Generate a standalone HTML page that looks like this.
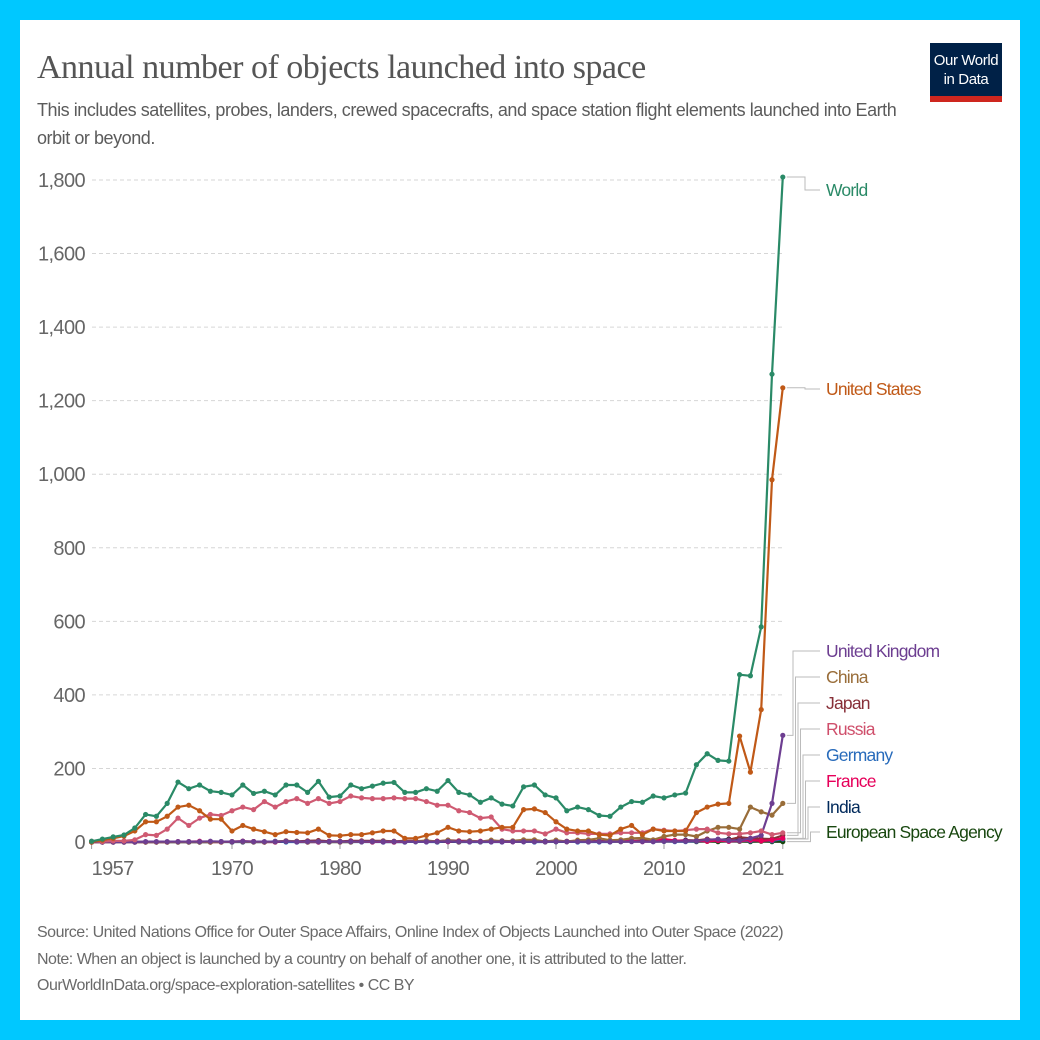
<!DOCTYPE html>
<html><head><meta charset="utf-8"><style>
html,body{margin:0;padding:0;}
body{width:1040px;height:1040px;background:#00c8ff;position:relative;overflow:hidden;font-family:"Liberation Sans",sans-serif;}
#card{position:absolute;left:20px;top:20px;width:1000px;height:1000px;background:#fff;}
#title{position:absolute;left:37px;top:49px;font-family:"Liberation Serif",serif;font-size:34px;color:#555;margin:0;font-weight:normal;letter-spacing:-0.5px;}
#subtitle{position:absolute;left:37px;top:96px;width:880px;font-size:18px;line-height:28px;color:#5b5b5b;letter-spacing:-0.45px;}
#logo{position:absolute;left:930px;top:43px;width:72px;height:59px;background:#002147;color:#fff;font-size:15px;line-height:19px;text-align:center;letter-spacing:-0.4px;}
#logo div.t{padding-top:8px;}
#logo div.bar{position:absolute;left:0;bottom:0;width:72px;height:6px;background:#ce261e;}
#footer{position:absolute;left:37px;top:920px;font-size:16px;line-height:26.5px;color:#6a6a6a;letter-spacing:-0.5px;}
svg{position:absolute;left:0;top:0;}
</style></head><body>
<div id="card"></div>
<h1 id="title">Annual number of objects launched into space</h1>
<div id="subtitle">This includes satellites, probes, landers, crewed spacecrafts, and space station flight elements launched into Earth orbit or beyond.</div>
<div id="logo"><div class="t">Our World<br>in Data</div><div class="bar"></div></div>
<svg id="chart" width="1040" height="1040"></svg>
<div id="footer">Source: United Nations Office for Outer Space Affairs, Online Index of Objects Launched into Outer Space (2022)<br>Note: When an object is launched by a country on behalf of another one, it is attributed to the latter.<br>OurWorldInData.org/space-exploration-satellites • CC BY</div>
<script>
const startYear = 1957;
const yTicks = [0,200,400,600,800,1000,1200,1400,1600,1800];
const xTicks = [1957,1970,1980,1990,2000,2010,2021];
const world = [2,8,14,19,38,75,70,105,163,145,155,138,135,128,155,132,138,128,155,155,135,165,122,125,155,145,152,160,162,135,135,145,138,167,135,128,108,120,103,98,150,155,128,120,85,95,88,72,70,95,110,108,125,120,128,133,210,240,222,220,455,452,585,1272,1808];
const us = [0,5,10,16,30,55,55,70,95,100,85,62,62,30,45,35,28,20,28,26,25,35,18,17,20,20,25,30,30,10,10,18,25,40,30,28,30,35,40,40,88,90,80,55,35,30,30,20,18,35,45,20,35,30,30,30,80,95,103,105,288,190,360,985,1235];
const russia = [2,1,3,3,6,20,18,35,65,45,65,75,72,85,95,88,110,95,110,118,105,118,105,110,125,120,118,118,120,118,118,110,100,100,85,80,65,68,35,30,30,30,22,35,25,25,22,22,22,25,25,25,35,32,30,32,35,35,25,22,22,25,30,20,25];
const china = [0,0,0,0,0,0,0,0,0,0,0,0,0,1,1,0,0,1,3,2,0,1,0,0,0,1,1,2,1,2,2,4,1,5,0,3,1,5,2,3,6,6,1,5,1,5,6,10,5,6,10,11,6,15,20,20,15,30,40,40,35,95,82,73,105];
const uk = [0,0,0,0,0,1,1,1,1,1,1,2,1,1,2,1,1,1,2,1,1,1,1,1,1,1,1,1,1,1,1,1,1,2,1,1,1,1,1,1,1,1,1,1,1,1,1,1,1,1,1,1,1,2,2,2,3,6,8,4,4,10,18,105,290];
const japan = [0,0,0,0,0,0,0,0,0,0,0,0,0,1,2,1,0,1,2,2,3,4,2,2,3,3,3,3,2,3,3,2,2,5,3,3,1,2,3,2,3,2,1,2,2,3,3,2,3,4,3,5,3,5,4,3,4,8,5,6,13,10,9,8,18];
const germany = [0,0,0,0,0,0,0,0,0,0,0,0,1,0,1,0,0,2,0,0,0,0,0,0,0,0,0,0,0,0,1,0,0,2,0,0,0,0,0,1,1,0,0,1,1,0,0,0,0,3,3,2,1,2,1,1,2,3,4,2,3,3,5,3,8];
const france = [0,0,0,0,0,0,0,0,1,1,2,0,0,1,2,1,0,0,3,1,0,0,1,0,1,1,0,1,0,1,2,1,2,1,2,1,2,1,1,1,2,2,1,3,1,2,1,2,1,3,3,1,2,8,4,3,3,2,4,2,3,5,3,5,10];
const india = [0,0,0,0,0,0,0,0,0,0,0,0,0,0,0,0,0,0,1,0,0,0,1,1,1,1,1,0,0,0,1,1,0,1,0,1,1,1,1,1,1,1,2,1,1,2,1,2,1,2,2,3,2,4,3,5,4,5,6,8,7,8,7,5,8];
const esa = [0,0,0,0,0,0,0,0,0,0,0,0,1,0,1,1,0,1,1,1,1,1,0,0,0,1,1,2,1,1,1,1,2,2,1,1,1,1,1,1,1,1,2,1,1,2,1,2,2,1,2,3,2,2,2,2,1,2,1,3,2,1,2,1,1];

const svg = document.getElementById('chart');
const NS = 'http://www.w3.org/2000/svg';
const x = yr => 232 + (yr - 1970) * 10.8;
const y = v => 842 - v * (662 / 1800);
function mk(tag, attrs){const e=document.createElementNS(NS,tag);for(const k in attrs)e.setAttribute(k,attrs[k]);svg.appendChild(e);return e;}

yTicks.forEach(t=>{
  if(t>0){const g=mk('line',{x1:92,x2:785,y1:y(t),y2:y(t),stroke:'#d6d6d6','stroke-dasharray':'4,3'});
  
  }
  const l=mk('text',{x:85,y:y(t)+7,'text-anchor':'end','font-size':'20','fill':'#666','letter-spacing':'-0.6','font-family':'Liberation Sans, sans-serif'});
  l.textContent=t.toLocaleString('en-US');
  
  
});
const ax=mk('line',{x1:91,x2:785,y1:842.5,y2:842.5,stroke:'#999'});


xTicks.forEach((t,i)=>{
  const tk=mk('line',{x1:x(t),x2:x(t),y1:843,y2:849,stroke:'#999'});
  
  
  let lx=x(t), anchor='middle';
  if(i===0){lx=x(t);anchor='start';}
  if(i===xTicks.length-1){anchor='end';lx=x(t)+1;}
  const l=mk('text',{x:lx,y:875,'text-anchor':anchor,'font-size':'20','fill':'#666','letter-spacing':'-0.6','font-family':'Liberation Sans, sans-serif'});
  l.textContent=t;
  
  
});

const series=[
 [esa,'#18470f'],[india,'#00295b'],[germany,'#286bbb'],[japan,'#883039'],[france,'#e6005a'],[china,'#996d39'],[uk,'#6d3e91'],[russia,'#cf5a72'],[us,'#c05917'],[world,'#2a8a67']
];
const seriesKeys=['european-space-agency','india','germany','japan','france','china','united-kingdom','russia','united-states','world'];
series.forEach(([data,col],si)=>{
  const pts=data.map((v,i)=>x(startYear+i).toFixed(1)+','+y(v).toFixed(1)).join(' ');
  const pl=mk('polyline',{points:pts,fill:'none',stroke:col,'stroke-width':2.2,'stroke-linejoin':'round'});
  
  
  data.forEach((v,i)=>{
    const c=mk('circle',{cx:x(startYear+i),cy:y(v),r:2.6,fill:col});
    
    
  });
});

const labelInfo=[
 ['World','#2a8a67',world,190],['United States','#c05917',us,389],['United Kingdom','#6d3e91',uk,651],['China','#996d39',china,677],['Japan','#883039',japan,703],['Russia','#cf4f6b',russia,729],['Germany','#286bbb',germany,755],['France','#e6005a',france,781],['India','#00295b',india,807],['European Space Agency','#18470f',esa,832]
];
const ex=x(2021);
labelInfo.forEach(([name,col,data,ly],i)=>{
  const vy=y(data[data.length-1]);
  const bx = i<2 ? 805 : 793+ (i-2)*2.5;
  const p=mk('polyline',{points:`${ex+4},${vy} ${bx},${vy} ${bx},${ly} 820,${ly}`,fill:'none',stroke:'#bbb','stroke-width':1});
  
  
  const t=mk('text',{x:826,y:ly+6,'font-size':'17.5','fill':col,'letter-spacing':'-0.8','font-family':'Liberation Sans, sans-serif'});
  t.textContent=name;
  
  
});
</script>
</body></html>
